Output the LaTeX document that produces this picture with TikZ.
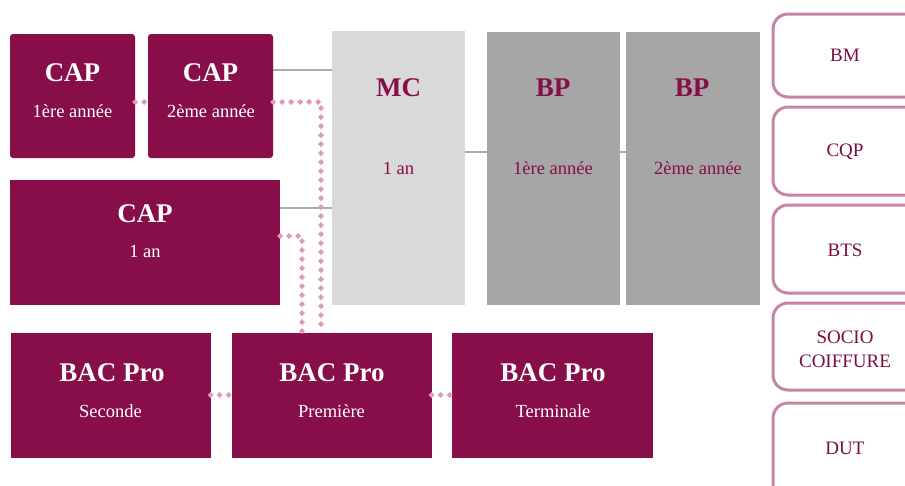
\documentclass[tikz,border=0pt]{standalone}
\usepackage{fontspec}
\setmainfont{Liberation Serif}
\usetikzlibrary{decorations.markings}
\definecolor{maroon}{HTML}{870E48}
\definecolor{lgray}{HTML}{D9D9D9}
\definecolor{mgray}{HTML}{A6A6A6}
\definecolor{lineg}{HTML}{ABABAB}
\definecolor{dotpink}{HTML}{DE9ABD}
\definecolor{rimpink}{HTML}{C684A6}
\definecolor{txtdark}{HTML}{7A0E40}
\tikzset{
  mbox/.style={fill=maroon, draw=none, inner sep=0pt},
  gbox/.style={fill=#1, draw=none, inner sep=0pt},
  head/.style={font=\bfseries\fontsize{27}{29}\selectfont, text=#1, inner sep=0pt},
  sub/.style={font=\fontsize{18.5}{20}\selectfont, text=#1, inner sep=0pt},
  pill/.style={draw=rimpink, line width=3pt, rounded corners=15pt, fill=white, minimum width=150, inner sep=0pt},
  ptxt/.style={font=\fontsize{19}{24}\selectfont, text=txtdark, align=center, inner sep=0pt},
  gline/.style={draw=lineg, line width=2.8pt},
  dots/.style={decoration={markings, mark=between positions 0 and 1 step 9pt with {\fill[dotpink] (0,3pt)--(3pt,0)--(0,-3pt)--(-3pt,0)--cycle;}}, decorate}
}
\begin{document}
\begin{tikzpicture}[x=1pt,y=-1pt]
\useasboundingbox (0,0) rectangle (905,485);
\clip (0,0) rectangle (905,485);
\fill[white] (0,0) rectangle (905,485);

% right outlined boxes
\node[pill, minimum height=83] (bm) at (848,55.5) {};
\node[pill, minimum height=88] (cqp) at (848,151) {};
\node[pill, minimum height=88] (bts) at (848,249) {};
\node[pill, minimum height=87] (socio) at (848,346.5) {};
\node[pill, minimum height=100] (dut) at (848,453) {};
\node[ptxt] (bmt) at (845,55) {BM};
\node[ptxt] (cqpt) at (845,152) {CQP};
\node[ptxt] (btst) at (845,250) {BTS};
\node[ptxt] (sociot) at (845,349.5) {SOCIO\\COIFFURE};
\node[ptxt] (dutt) at (845,448) {DUT};

% gray columns
\node[gbox=lgray, minimum width=133, minimum height=274] (mc) at (398.5,168) {};
\node[gbox=mgray, minimum width=133, minimum height=273] (bp1) at (553.5,168) {};
\node[gbox=mgray, minimum width=134, minimum height=273] (bp2) at (693,168) {};

% maroon boxes
\node[mbox, rounded corners=3pt, minimum width=125, minimum height=124] (cap1) at (72.5,96) {};
\node[mbox, rounded corners=3pt, minimum width=125, minimum height=124] (cap2) at (210.5,96) {};
\node[mbox, minimum width=270, minimum height=125] (cap3) at (145,242.5) {};
\node[mbox, minimum width=200, minimum height=125] (bac1) at (110.5,395.5) {};
\node[mbox, minimum width=200, minimum height=125] (bac2) at (331.5,395.5) {};
\node[mbox, minimum width=201, minimum height=125] (bac3) at (552.5,395.5) {};

% gray connectors
\draw[gline] (cap2.east |- 0,70) -- (mc.west |- 0,70);
\draw[gline] (cap3.east |- 0,208) -- (mc.west |- 0,208);
\draw[gline] (mc.east |- 0,152) -- (bp1.west |- 0,152);
\draw[gline] (bp1.east |- 0,152) -- (bp2.west |- 0,152);

% dotted connectors
\path[dots] (cap1.east |- 0,102) -- (cap2.west |- 0,102);
\path[dots] (cap2.east |- 0,102) -- (321,102) -- (321,333);
\path[dots] (cap3.east |- 0,236) -- (302,236) -- (302,333);
\path[dots] (bac1.east |- 0,395) -- (bac2.west |- 0,395);
\path[dots] (bac2.east |- 0,395) -- (bac3.west |- 0,395);

% texts
\node[head=white] (cap1h) at (72.5,73) {CAP};
\node[sub=white] (cap1s) at (72.5,111) {1ère année};
\node[head=white] (cap2h) at (210.5,73) {CAP};
\node[sub=white] (cap2s) at (211,111) {2ème année};
\node[head=white] (cap3h) at (145,214) {CAP};
\node[sub=white] (cap3s) at (145,251) {1 an};
\node[head=maroon] (mch) at (398.5,88) {MC};
\node[sub=maroon] (mcs) at (398.5,168) {1 an};
\node[head=maroon] (bp1h) at (553,88) {BP};
\node[sub=maroon] (bp1s) at (553,168) {1ère année};
\node[head=maroon] (bp2h) at (692,88) {BP};
\node[sub=maroon] (bp2s) at (698,168) {2ème année};
\node[head=white] (bac1h) at (112,373) {BAC Pro};
\node[sub=white] (bac1s) at (110.5,411) {Seconde};
\node[head=white] (bac2h) at (332,373) {BAC Pro};
\node[sub=white] (bac2s) at (331.5,411) {Première};
\node[head=white] (bac3h) at (553,373) {BAC Pro};
\node[sub=white] (bac3s) at (553,411) {Terminale};
\end{tikzpicture}
\end{document}
